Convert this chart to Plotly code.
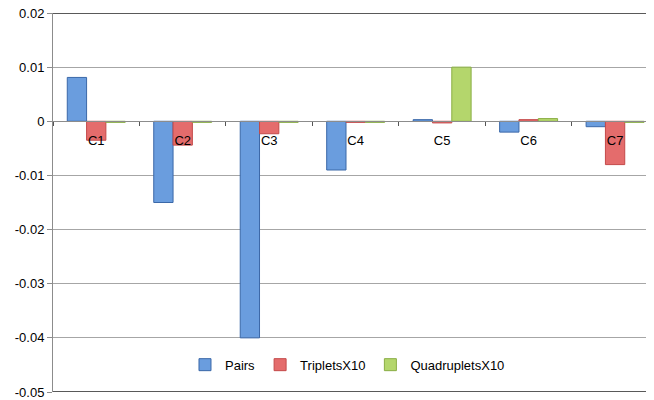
import plotly.graph_objects as go

categories = ["C1", "C2", "C3", "C4", "C5", "C6", "C7"]
pairs = [0.0081, -0.015, -0.040, -0.009, 0.0003, -0.002, -0.001]
triplets_x10 = [-0.0035, -0.0044, -0.0023, -0.0002, -0.0003, 0.0003, -0.008]
quadruplets_x10 = [-0.0002, -0.0002, -0.0002, -0.0002, 0.010, 0.0005, -0.0002]
y_ticks = [0.02, 0.01, 0, -0.01, -0.02, -0.03, -0.04, -0.05]

fig = go.Figure()
fig.add_trace(go.Bar(name="Pairs", x=categories, y=pairs,
                     marker=dict(color="#6A9DDE", line=dict(color="#3B68A8", width=1))))
fig.add_trace(go.Bar(name="TripletsX10", x=categories, y=triplets_x10,
                     marker=dict(color="#E46C6C", line=dict(color="#C44A4A", width=1))))
fig.add_trace(go.Bar(name="QuadrupletsX10", x=categories, y=quadruplets_x10,
                     marker=dict(color="#B4D66C", line=dict(color="#8AAE45", width=1))))

zero_pos = (0 - (-0.05)) / (0.02 - (-0.05))

# page body has an 8px default margin, so the figure is sized/offset to compensate
fig.update_layout(
    width=646, height=392,
    margin=dict(l=45, r=0, t=5, b=8, autoexpand=False),
    paper_bgcolor="white", plot_bgcolor="white",
    font=dict(family="Liberation Sans, Arial, sans-serif", size=13, color="black"),
    barmode="group", bargap=0.33, bargroupgap=0,
    showlegend=True,
    legend=dict(orientation="h", x=0.49, xanchor="center", y=0.072, yanchor="middle",
                font=dict(size=13), itemwidth=30, bgcolor="rgba(0,0,0,0)"),
    xaxis=dict(range=[-0.5, 6.45], anchor="free", position=zero_pos, automargin=False,
               showline=True, linecolor="#8C8C8C", linewidth=1,
               ticks="outside", tickson="boundaries", ticklen=4, tickcolor="#555555",
               ticklabelstandoff=7,
               showgrid=False, zeroline=False, tickfont=dict(size=13)),
    yaxis=dict(range=[-0.05, 0.02], tickvals=y_ticks, automargin=False,
               ticktext=[("%g" % v) if v != 0 else "0" for v in y_ticks],
               ticklabeloverflow="allow",
               showline=True, linecolor="#8C8C8C", linewidth=1,
               ticks="outside", ticklen=5, tickcolor="#8C8C8C",
               showgrid=True, gridcolor="#A6A6A6", gridwidth=1,
               zeroline=False, tickfont=dict(size=13)),
)

fig.add_shape(type="line", xref="paper", yref="y", x0=0, x1=1, y0=0.02, y1=0.02,
              line=dict(color="#222222", width=1.5))
fig.add_shape(type="line", xref="paper", yref="y", x0=0, x1=1, y0=-0.05, y1=-0.05,
              line=dict(color="#222222", width=1.5))

fig.write_html("out.html")
